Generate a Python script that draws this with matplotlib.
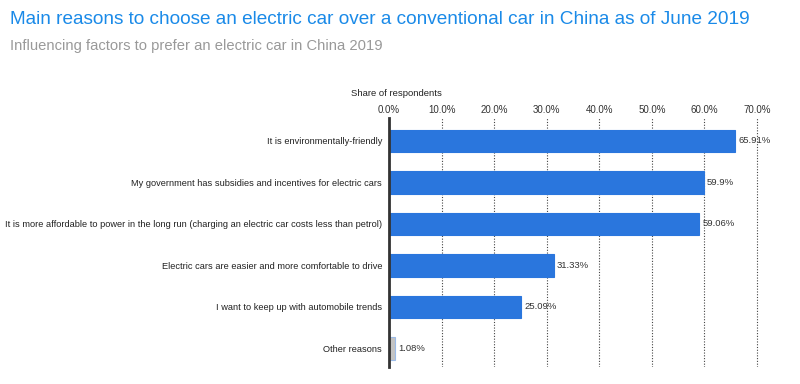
import matplotlib.pyplot as plt

categories = [
    "It is environmentally-friendly",
    "My government has subsidies and incentives for electric cars",
    "It is more affordable to power in the long run (charging an electric car costs less than petrol)",
    "Electric cars are easier and more comfortable to drive",
    "I want to keep up with automobile trends",
    "Other reasons",
]
values = [65.91, 59.9, 59.06, 31.33, 25.09, 1.08]
value_labels = ["65.91%", "59.9%", "59.06%", "31.33%", "25.09%", "1.08%"]
ticks = [0, 10, 20, 30, 40, 50, 60, 70]

plt.rcParams['font.family'] = ['Liberation Sans', 'DejaVu Sans']

fig = plt.figure(figsize=(8, 3.84), dpi=100)
# 0% at x=389 px, 70% at x=757 px
right_px = 389 + (757 - 389) * 72 / 70
ax = fig.add_axes([389 / 800, 1 - 367 / 384, (right_px - 389) / 800, (367 - 118) / 384])

colors = ["#2a76dd"] * 5 + ["#c4c4c4"]
edges = ["#2a76dd"] * 5 + ["#9bbbe8"]
y = list(range(len(categories)))
ax.barh(y, values, height=0.54, color=colors, edgecolor=edges, linewidth=0.8, zorder=3)

for yi, v, lab in zip(y, values, value_labels):
    ax.text(v + 0.6, yi, lab, va="center", ha="left", fontsize=6.8, color="#333333", zorder=4)

ax.set_ylim(5.45, -0.55)
ax.set_xlim(0, 72)
ax.set_yticks(y)
ax.set_yticklabels(categories, fontsize=6.65, color="#222222")
ax.set_xticks(ticks)
ax.set_xticklabels([f"{t:.1f}%" for t in ticks], fontsize=7, color="#333333")
ax.xaxis.tick_top()
ax.tick_params(axis="y", length=0, pad=5)
ax.tick_params(axis="x", length=0, pad=2)

ax.grid(axis="x", linestyle=(0, (1, 1.5)), color="#444444", linewidth=0.8, zorder=0)
for s in ["top", "right", "bottom"]:
    ax.spines[s].set_visible(False)
ax.spines["left"].set_linewidth(2)
ax.spines["left"].set_color("#333333")
ax.spines["left"].set_zorder(5)

fig.text(351 / 800, 1 - 93 / 384, "Share of respondents", fontsize=6.8, color="#222222", va="center", ha="left")
fig.text(10 / 800, 1 - 20 / 384, "Main reasons to choose an electric car over a conventional car in China as of June 2019",
         fontsize=13.7, color="#1a8ae8", va="center", ha="left")
fig.text(10 / 800, 1 - 46 / 384, "Influencing factors to prefer an electric car in China 2019",
         fontsize=10.6, color="#999999", va="center", ha="left")

fig.savefig("out.png", dpi=100)
